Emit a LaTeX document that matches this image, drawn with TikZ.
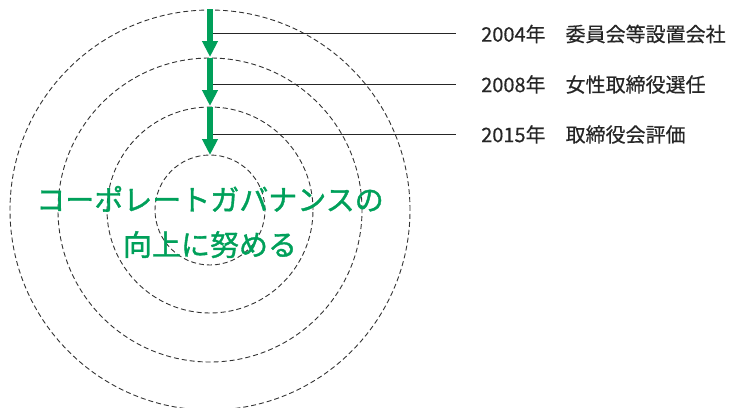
\documentclass[tikz,border=0pt]{standalone}
\usepackage{fontspec}
\setmainfont{Noto Sans CJK JP}
\newfontfamily\jp[FakeBold=0.4]{Noto Sans CJK JP}
\newfontfamily\jpm[FakeBold=1.3]{Noto Sans CJK JP}
\usetikzlibrary{arrows.meta}
\definecolor{cgreen}{RGB}{0,160,90}
\definecolor{cring}{RGB}{50,50,50}
\tikzset{
  ring/.style={draw=cring, line width=0.9pt, dash pattern=on 5pt off 3pt, circle, inner sep=0pt},
  garrow/.style={draw=cgreen, line width=6pt, -{Triangle[width=15pt,length=16pt]}},
  tick/.style={draw=black!85, line width=0.9pt},
  yearlabel/.style={anchor=west, inner sep=0pt, font=\jp\fontsize{20pt}{24pt}\selectfont, text=black!85},
  maintext/.style={align=center, inner sep=0pt, font=\jpm\fontsize{29pt}{45pt}\selectfont, text=cgreen}
}
\begin{document}
\begin{tikzpicture}[x=1pt,y=-1pt]
\useasboundingbox (0,0) rectangle (733,407);
\begin{scope}
\clip (0,0) rectangle (733,407);
\node[ring, minimum size=400pt] (r4) at (210,210) {};
\node[ring, minimum size=304pt] (r3) at (210,210) {};
\node[ring, minimum size=206pt] (r2) at (210,210) {};
\node[ring, minimum size=110pt] (r1) at (210,210) {};
\end{scope}
\coordinate (s1) at (210,9);
\coordinate (e1) at (210,57);
\coordinate (e2) at (210,106);
\coordinate (e3) at (210,155);
\coordinate (p1) at (210,33.5);
\coordinate (p2) at (210,84);
\coordinate (p3) at (210,134);
\node[yearlabel] (l1) at (481,34) {2004年　委員会等設置会社};
\node[yearlabel] (l2) at (481,84.5) {2008年　女性取締役選任};
\node[yearlabel] (l3) at (481,134.5) {2015年　取締役会評価};
\draw[tick] (p1) -- ([xshift=-25pt]l1.west |- p1);
\draw[tick] (p2) -- ([xshift=-25pt]l2.west |- p2);
\draw[tick] (p3) -- ([xshift=-25pt]l3.west |- p3);
\draw[garrow] (s1) -- (e1);
\draw[garrow] (r3.north) -- (e2);
\draw[garrow] (r2.north) -- (e3);
\node[maintext] (m) at (210,222) {コーポレートガバナンスの\\向上に努める};
\end{tikzpicture}
\end{document}
